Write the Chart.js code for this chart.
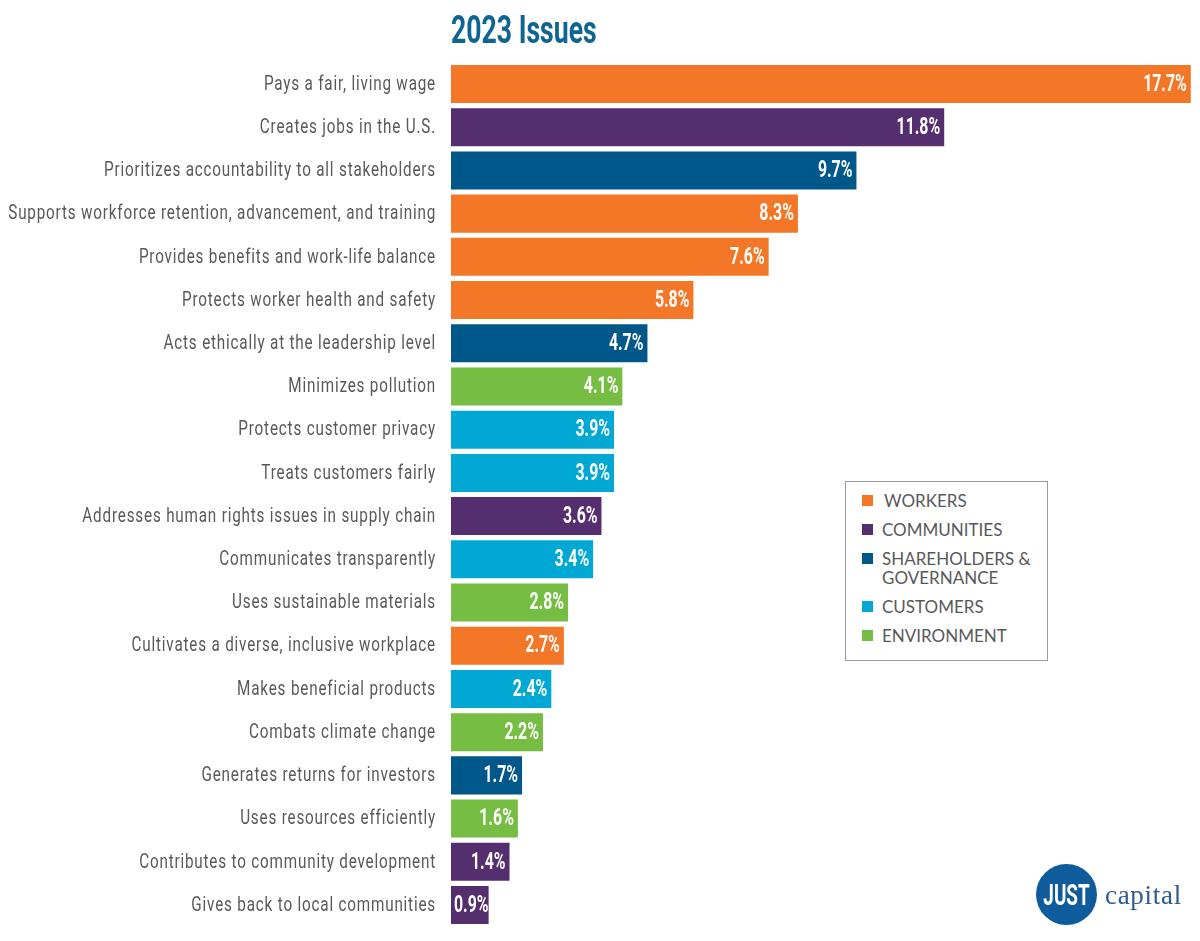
<!DOCTYPE html>
<html lang="en">
<head>
  <meta charset="UTF-8" />
  <title>2023 Issues</title>
  <script src="https://cdn.jsdelivr.net/npm/chart.js"></script>
  <style>
    * { margin: 0; padding: 0; box-sizing: border-box; }
    body { background: #fff; width: 1200px; height: 941px; position: relative; overflow: hidden; }
    canvas { position: absolute; left: 0; top: 0; }

    .legend-box {
      position: absolute; left: 845px; top: 481px; width: 203px; height: 180px;
      border: 1px solid #9a9a9a; background: #fff;
      font-family: 'Lato', sans-serif; font-size: 17px; line-height: 19px; color: #58595b;
    }
    .legend-row { position: absolute; left: 36px; white-space: nowrap; }
    .legend-row i { position: absolute; left: -20px; top: 4px; width: 11px; height: 11px; }
    .legend-row:first-child { text-indent: 2px; }

    .logo-circle {
      position: absolute; left: 1036px; top: 864px; width: 61px; height: 61px; border-radius: 50%;
      background: #0f5c9c;
    }
    .logo-just {
      position: absolute; left: 1016px; top: 864px; width: 101px; text-align: center; color: #fff;
      font: bold 30px/61px 'Roboto', sans-serif; transform: scaleX(0.63);
    }
    .logo-name {
      position: absolute; left: 1105px; top: 880px;
      font: 27px/30px 'Liberation Serif', serif; letter-spacing: 0.7px; color: #2c5b8c;
    }
  </style>
</head>
<body>
  <canvas id="issuesChart" width="1200" height="941"></canvas>
  <div class="legend-box" id="legendBox"></div>
  <div class="logo-circle"></div>
  <div class="logo-just">JUST</div>
  <div class="logo-name">capital</div>

  <script>
    const chartTitle = '2023 Issues';
    const categories = [
      'Pays a fair, living wage',
      'Creates jobs in the U.S.',
      'Prioritizes accountability to all stakeholders',
      'Supports workforce retention, advancement, and training',
      'Provides benefits and work-life balance',
      'Protects worker health and safety',
      'Acts ethically at the leadership level',
      'Minimizes pollution',
      'Protects customer privacy',
      'Treats customers fairly',
      'Addresses human rights issues in supply chain',
      'Communicates transparently',
      'Uses sustainable materials',
      'Cultivates a diverse, inclusive workplace',
      'Makes beneficial products',
      'Combats climate change',
      'Generates returns for investors',
      'Uses resources efficiently',
      'Contributes to community development',
      'Gives back to local communities'
    ];
    const values = [17.7, 11.8, 9.7, 8.3, 7.6, 5.8, 4.7, 4.1, 3.9, 3.9, 3.6, 3.4, 2.8, 2.7, 2.4, 2.2, 1.7, 1.6, 1.4, 0.9];
    const groups = ['W', 'C', 'S', 'W', 'W', 'W', 'S', 'E', 'U', 'U', 'C', 'U', 'E', 'W', 'U', 'E', 'S', 'E', 'C', 'C'];
    const groupColors = { W: '#f37726', C: '#552e6f', S: '#00578a', U: '#00a8d3', E: '#76bd43' };

    // legend rows: group, text, top offset inside the box
    const legendGroups = ['W', 'C', 'S', 'U', 'E'];
    const legendLabels = ['WORKERS', 'COMMUNITIES', 'SHAREHOLDERS &<br>GOVERNANCE', 'CUSTOMERS', 'ENVIRONMENT'];
    const legendTops = [9, 38, 67, 115, 144];

    const legendBox = document.getElementById('legendBox');
    legendGroups.forEach((g, i) => {
      const row = document.createElement('div');
      row.className = 'legend-row';
      row.style.top = legendTops[i] + 'px';
      row.innerHTML = '<i style="background:' + groupColors[g] + '"></i>' + legendLabels[i];
      legendBox.appendChild(row);
    });

    // no condensed face is installed, so squeeze the text horizontally
    function squeezedText(ctx, text, x, y, squeeze) {
      ctx.save();
      ctx.translate(x, y);
      ctx.scale(squeeze, 1);
      ctx.fillText(text, 0, 0);
      ctx.restore();
    }

    const narrowText = {
      id: 'narrowText',
      afterDatasetsDraw(chart) {
        const ctx = chart.ctx;
        const yScale = chart.scales.y;
        ctx.save();
        ctx.textBaseline = 'middle';

        // category labels
        ctx.fillStyle = '#58595b';
        ctx.font = '21px Roboto';
        ctx.textAlign = 'right';
        ctx.letterSpacing = '1.1px';
        categories.forEach((label, i) => {
          squeezedText(ctx, label, yScale.right - 15, yScale.getPixelForTick(i) + 0.5, 0.727);
        });
        ctx.letterSpacing = '0px';

        // white % labels at the end of each bar, kept inside the short ones
        const valueSqueeze = 0.69;
        ctx.fillStyle = '#fff';
        ctx.font = 'bold 23px Roboto';
        chart.getDatasetMeta(0).data.forEach((bar, i) => {
          const text = values[i].toFixed(1) + '%';
          const width = ctx.measureText(text).width * valueSqueeze;
          const right = Math.max(bar.x - 4, bar.base + 3 + width);
          squeezedText(ctx, text, right, bar.y + 1, valueSqueeze);
        });

        // title lines up with the bars
        ctx.fillStyle = '#0f6592';
        ctx.font = 'bold 38px Roboto';
        ctx.textAlign = 'left';
        squeezedText(ctx, chartTitle, chart.chartArea.left, 33, 0.7);
        ctx.restore();
      }
    };

    new Chart(document.getElementById('issuesChart').getContext('2d'), {
      type: 'bar',
      data: {
        labels: categories,
        datasets: [{
          data: values,
          backgroundColor: groups.map(g => groupColors[g]),
          barPercentage: 0.88,
          categoryPercentage: 1
        }]
      },
      plugins: [narrowText],
      options: {
        indexAxis: 'y',
        responsive: false,
        animation: false,
        devicePixelRatio: 1,
        layout: { padding: { left: 0, right: 0, top: 62.4, bottom: 14.4 } },
        plugins: {
          legend: { display: false },
          tooltip: { enabled: false }
        },
        scales: {
          x: {
            display: false,
            min: 0,
            max: 17.92
          },
          y: {
            grid: { display: false },
            border: { display: false },
            ticks: { display: false },
            afterFit(scale) { scale.width = 451; }
          }
        }
      }
    });
  </script>
</body>
</html>
